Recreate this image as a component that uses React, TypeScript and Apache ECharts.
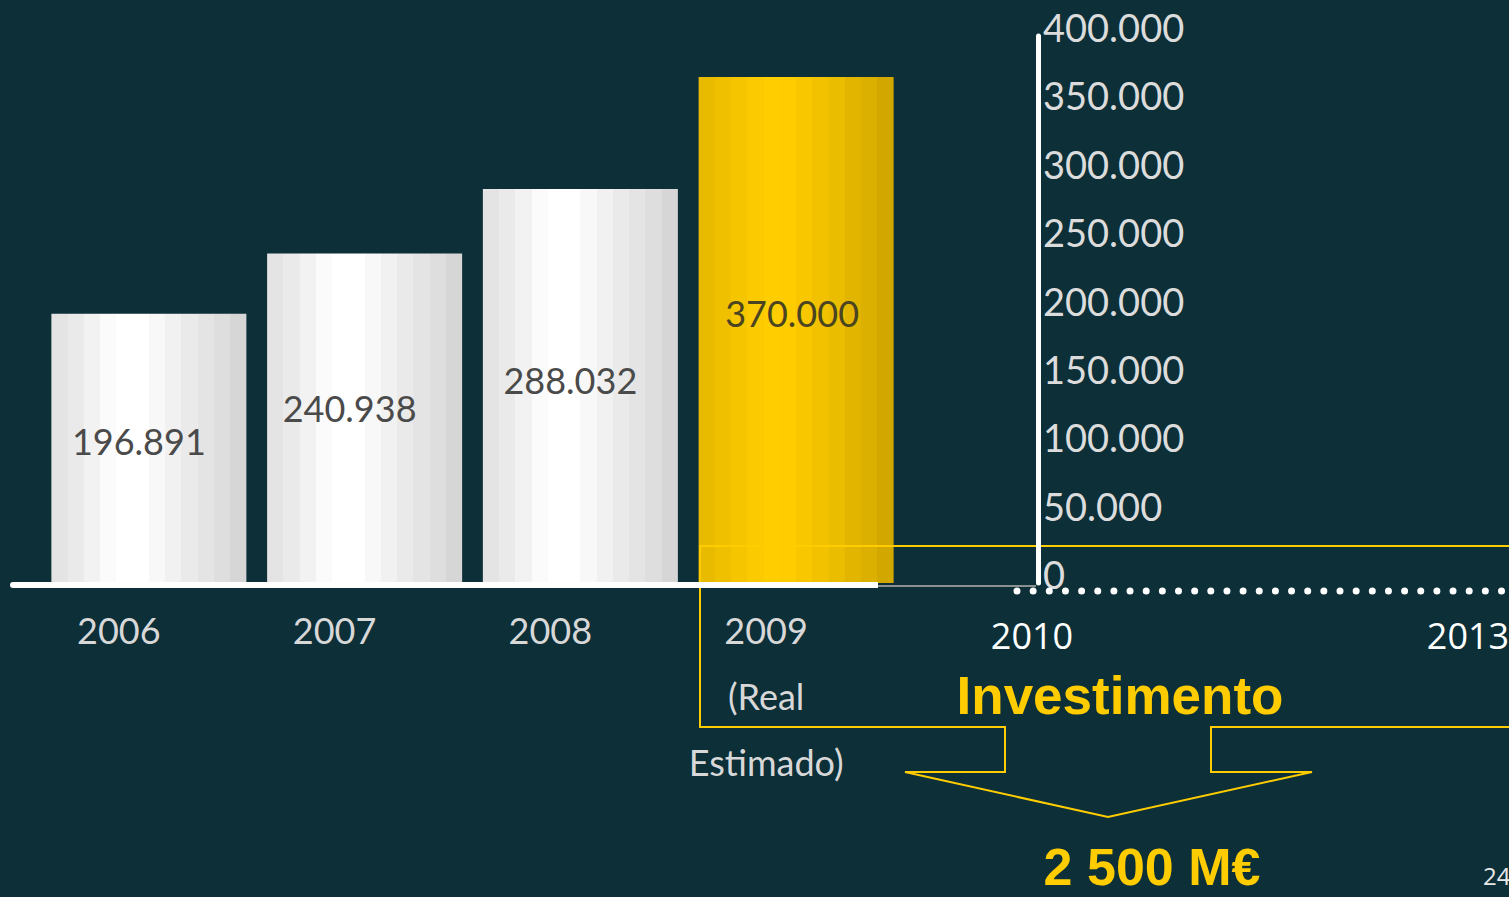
import React, { useEffect, useRef } from "react";
import * as echarts from "echarts";

// ---- data ----
const years = ["2006", "2007", "2008", "2009"];
const yearLabels = ["2006", "2007", "2008", "2009\n(Real\nEstimado)"];
const values = [196891, 240938, 288032, 370000];
const yMin = 0;
const yMax = 400000;
const yStep = 50000;
const timelineYears = ["2010", "2013"];
const calloutTitle = "Investimento";
const calloutValue = "2 500 M€";
const pageNumber = "24";

const fmt = (v: number) => {
  if (v === 0) return "0";
  const k = Math.floor(v / 1000);
  const r = Math.round(v % 1000);
  return `${k}.${String(r).padStart(3, "0")}`;
};

const band = (cols: string[]) => {
  const stops: any[] = [];
  const n = cols.length;
  cols.forEach((c, i) => {
    stops.push({ offset: i / n, color: c });
    stops.push({ offset: (i + 1) / n, color: c });
  });
  return { type: "linear", x: 0, y: 0, x2: 1, y2: 0, colorStops: stops };
};

const whiteGrad = band([
  "#e4e4e4", "#eaeaea", "#f2f2f2", "#fbfbfb", "#ffffff", "#ffffff",
  "#f8f8f8", "#f1f1f1", "#eaeaea", "#e4e4e4", "#dedede", "#d6d6d6",
]);
const yellowGrad = band([
  "#e8bb00", "#eec000", "#f5c600", "#fbca00", "#ffcd00", "#ffcc00",
  "#f8c700", "#f2c200", "#eabd00", "#e2b500", "#dbb000", "#d2a800",
]);

const labelOffsets = [[-10, -7], [-15, -10], [-10, -6], [-4, -17]];

export default function App() {
  const ref = useRef<HTMLDivElement>(null);
  useEffect(() => {
    if (!ref.current) return;
    const chart = echarts.init(ref.current, undefined, { renderer: "svg" });
    const font = "Lato, 'DejaVu Sans', sans-serif";
    const yellow = "#ffcc00";
    const option: any = {
      animation: false,
      backgroundColor: "#0c2f38",
      grid: [
        { left: 41, width: 863, top: 36, height: 547 },
        { left: 1037, width: 1, top: 36, height: 547 },
      ],
      xAxis: [
        {
          type: "category",
          gridIndex: 0,
          data: yearLabels,
          axisLine: { show: false },
          axisTick: { show: false },
          axisLabel: {
            color: "#d8d8d8",
            fontFamily: font,
            fontSize: 36,
            lineHeight: 66,
            margin: 14,
            padding: [0, 60, 0, 0],
            interval: 0,
          },
        },
        {
          type: "category",
          gridIndex: 1,
          data: [""],
          show: false,
        },
      ],
      yAxis: [
        {
          type: "value",
          gridIndex: 0,
          min: yMin,
          max: yMax,
          interval: yStep,
          show: false,
        },
        {
          type: "value",
          gridIndex: 1,
          min: yMin,
          max: yMax,
          interval: yStep,
          position: "right",
          z: 10,
          axisLine: { show: true, lineStyle: { color: "#ffffff", width: 5 } },
          axisTick: { show: false },
          splitLine: { show: false },
          axisLabel: {
            color: "#dcdcdc",
            fontFamily: font,
            fontSize: 38,
            margin: 5,
            verticalAlign: "bottom",
            lineHeight: 18,
            formatter: (v: number) => fmt(v),
          },
        },
      ],
      series: [
        {
          type: "bar",
          xAxisIndex: 0,
          yAxisIndex: 0,
          barWidth: 195,
          data: values.map((v, i) => ({
            value: v,
            itemStyle: {
              color: i === values.length - 1 ? yellowGrad : whiteGrad,
            },
            label: {
              show: true,
              position: "inside",
              offset: labelOffsets[i],
              formatter: () => fmt(v),
              color: i === values.length - 1 ? "#4a4420" : "#4a4a4a",
              fontFamily: font,
              fontSize: 36,
            },
          })),
        },
      ],
      graphic: [
        // floor
        {
          type: "rect",
          z: 20,
          shape: { x: 10, y: 582, width: 868, height: 6, r: [3, 0, 0, 3] },
          style: { fill: "#ffffff" },
        },
        {
          type: "line",
          z: 20,
          shape: { x1: 878, y1: 586, x2: 1036, y2: 586 },
          style: { stroke: "#8a8f90", lineWidth: 2 },
        },
        // dotted timeline
        {
          type: "line",
          z: 20,
          shape: { x1: 1017, y1: 591, x2: 1502, y2: 591 },
          style: { stroke: "#ffffff", lineWidth: 7, lineCap: "round", lineDash: [0, 16.15] },
        },
        {
          type: "text",
          z: 20,
          x: 1032,
          y: 635,
          style: {
            text: timelineYears[0],
            fill: "#ffffff",
            font: "36px 'Open Sans', sans-serif",
            align: "center",
            verticalAlign: "middle",
          },
        },
        {
          type: "text",
          z: 20,
          x: 1468,
          y: 635,
          style: {
            text: timelineYears[1],
            fill: "#ffffff",
            font: "36px 'Open Sans', sans-serif",
            align: "center",
            verticalAlign: "middle",
          },
        },
        // callout
        {
          type: "polyline",
          z: 5,
          shape: {
            points: [
              [1512, 546], [700, 546], [700, 727], [1005, 727], [1005, 772],
              [905, 772], [1108, 817], [1312, 772], [1211, 772], [1211, 727], [1512, 727],
            ],
          },
          style: { stroke: yellow, lineWidth: 2, fill: "none" },
        },
        {
          type: "text",
          z: 20,
          x: 1120,
          y: 695,
          style: {
            text: calloutTitle,
            fill: yellow,
            font: "bold 53px 'Liberation Sans', Arial, sans-serif",
            align: "center",
            verticalAlign: "middle",
          },
        },
        {
          type: "text",
          z: 20,
          x: 1152,
          y: 867,
          style: {
            text: calloutValue,
            fill: yellow,
            font: "bold 52px 'Liberation Sans', Arial, sans-serif",
            align: "center",
            verticalAlign: "middle",
          },
        },
        {
          type: "text",
          z: 20,
          x: 1483,
          y: 875,
          style: {
            text: pageNumber,
            fill: "#e8e8e8",
            font: "24px 'Open Sans', sans-serif",
            align: "left",
            verticalAlign: "middle",
          },
        },
      ],
    };
    chart.setOption(option);
    return () => chart.dispose();
  }, []);
  return (
    <div
      ref={ref}
      style={{ position: "fixed", left: 0, top: 0, width: 1509, height: 897 }}
    />
  );
}
